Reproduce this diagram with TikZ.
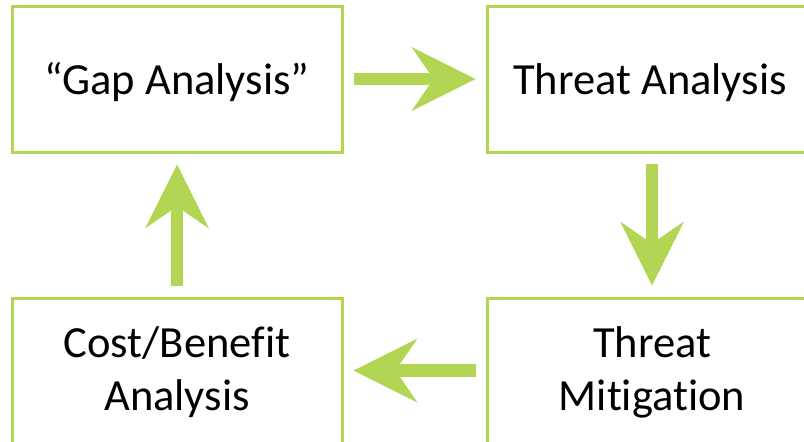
\documentclass[tikz,border=0pt]{standalone}
\usepackage{fontspec}
\setmainfont{Carlito}[Ligatures={NoCommon}]
\usetikzlibrary{arrows.meta}
\definecolor{leaf}{RGB}{178,214,84}
\tikzset{
  stagebox/.style={draw=leaf, line width=3pt, fill=none, inner sep=0pt},
  label/.style={anchor=base, inner sep=0pt, font=\fontsize{44.5}{53}\selectfont},
  flow/.style={draw=leaf, line width=12.5pt,
    -{Stealth[length=64pt, width=64pt, inset=22pt, line width=0pt, fill=leaf]}},
}
\begin{document}
\begin{tikzpicture}[x=1pt, y=-1pt]
  \useasboundingbox (0,0) rectangle (804,442);
  \fill[white] (0,0) rectangle (804,442);

  % the four stages
  \node[stagebox, minimum width=330pt, minimum height=146pt] (gap) at (177,79) {};
  \node[stagebox, minimum width=330pt, minimum height=146pt] (threat) at (652,79) {};
  \node[stagebox, minimum width=330pt, minimum height=145pt] (mitig) at (652,370.5) {};
  \node[stagebox, minimum width=330pt, minimum height=145pt] (cost) at (177,370.5) {};

  % stage titles
  \node[label] (gapT) at (177,94) {“Gap Analysis”};
  \node[label] (threatT) at (650,94) {Threat Analysis};
  \node[label] (mitigT1) at (652,357) {Threat};
  \node[label] (mitigT2) at (652,410) {Mitigation};
  \node[label] (costT1) at (177,357) {Cost/Benefit};
  \node[label] (costT2) at (177,410) {Analysis};

  % the cycle
  \draw[flow] ([xshift=10pt]gap.east) -- ([xshift=-10pt]threat.west);
  \draw[flow] ([yshift=-10pt]threat.south) -- ([yshift=11pt]mitig.north);
  \draw[flow] ([xshift=-10pt]mitig.west) -- ([xshift=10pt]cost.west -| cost.east);
  \draw[flow] ([yshift=11pt]cost.north) -- ([yshift=-11pt]gap.south);
\end{tikzpicture}
\end{document}
